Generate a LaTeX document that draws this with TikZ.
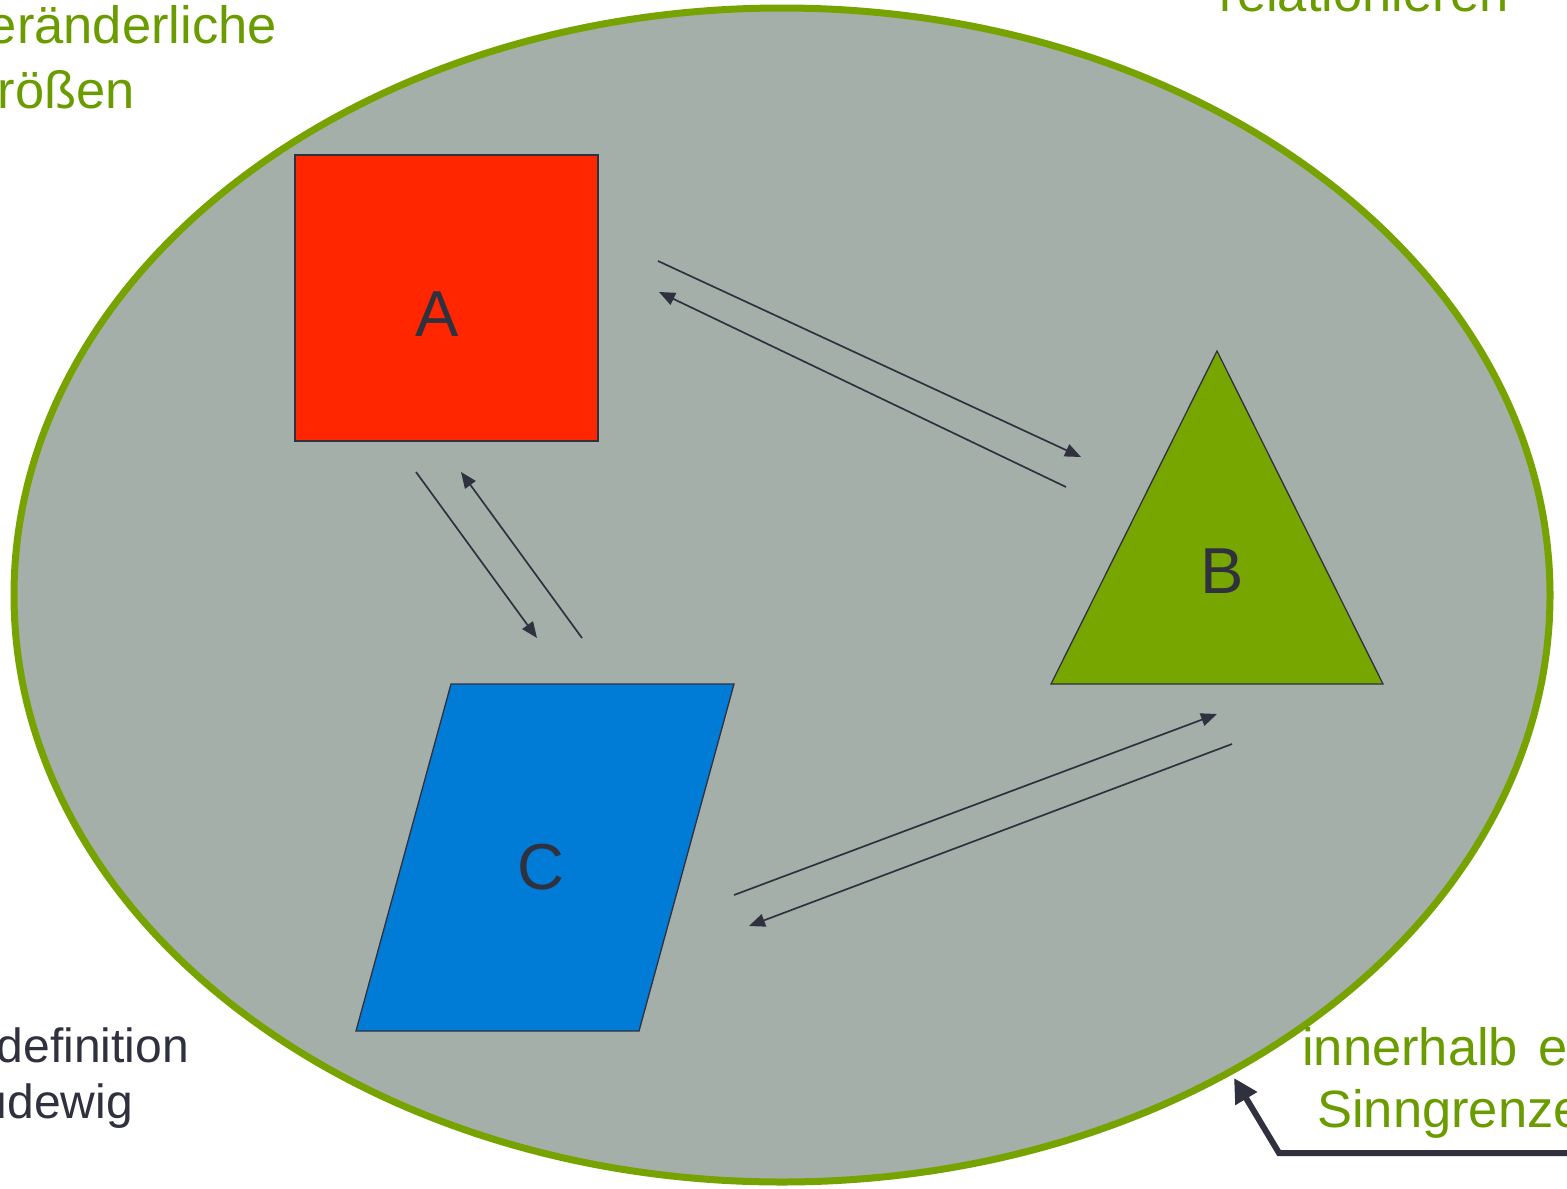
\documentclass[tikz,border=0pt]{standalone}
\usepackage{fontspec}
\setmainfont{Liberation Sans}
\usetikzlibrary{arrows.meta}
\definecolor{bgfill}{HTML}{A5AFA9}
\definecolor{ringgreen}{HTML}{77A300}
\definecolor{txtgreen}{HTML}{6A9C00}
\definecolor{sqred}{HTML}{FF2600}
\definecolor{trigreen}{HTML}{77A600}
\definecolor{parablue}{HTML}{007BD6}
\definecolor{inkdark}{HTML}{30313E}
\tikzset{
  shapeborder/.style={draw=inkdark, line width=1.3},
  thinarrow/.style={draw=inkdark, line width=1.7, -{Triangle[length=16,width=13]}},
  bigarrow/.style={draw=inkdark, line width=6, -{Triangle[length=24,width=24]}},
  lettertext/.style={text=inkdark, font=\fontsize{65}{70}\selectfont, inner sep=0},
  greentext/.style={text=txtgreen, font=\fontsize{52.5}{56}\selectfont, inner sep=0},
  darktext/.style={text=inkdark, font=\fontsize{48}{56}\selectfont, inner sep=0}
}
\begin{document}
\begin{tikzpicture}[x=1pt,y=-1pt]
\useasboundingbox (0,0) rectangle (1567,1189);
\clip (0,0) rectangle (1567,1189);
\fill[white] (0,0) rectangle (1567,1189);
% big ellipse
\filldraw[fill=bgfill, draw=ringgreen, line width=7] (782,595) ellipse [x radius=768, y radius=587];
% shapes
\filldraw[fill=sqred, shapeborder] (295,155) rectangle (598,441);
\filldraw[fill=trigreen, shapeborder] (1217,351) -- (1383,684) -- (1051,684) -- cycle;
\filldraw[fill=parablue, shapeborder] (451,684) -- (734,684) -- (639,1031) -- (356,1031) -- cycle;
% labels
\node[lettertext, anchor=base] (la) at (437,336) {A};
\node[lettertext, anchor=base] (lb) at (1222,593) {B};
\node[lettertext, anchor=base] (lc) at (541,889) {C};
% connector end points
\coordinate (ab1) at (658,261);
\coordinate (ab2) at (1081,457);
\coordinate (ba1) at (1066,487);
\coordinate (ba2) at (659,292);
\coordinate (ac1) at (416,472);
\coordinate (ac2) at (537,638);
\coordinate (ca1) at (582,638);
\coordinate (ca2) at (461,472);
\coordinate (cb1) at (734,895);
\coordinate (cb2) at (1217,714);
\coordinate (bc1) at (1232,744);
\coordinate (bc2) at (749,926);
\draw[thinarrow] (ab1) -- (ab2);
\draw[thinarrow] (ba1) -- (ba2);
\draw[thinarrow] (ac1) -- (ac2);
\draw[thinarrow] (ca1) -- (ca2);
\draw[thinarrow] (cb1) -- (cb2);
\draw[thinarrow] (bc1) -- (bc2);
% big pointer arrow
\coordinate (p0) at (1575,1153);
\coordinate (p1) at (1279,1153);
\coordinate (p2) at (1234,1078);
\draw[bigarrow] (p0) -- (p1) -- (p2);
% texts (partly outside the picture)
\node[greentext, anchor=base east] (t1) at (277,43) {Veränderliche};
\node[greentext, anchor=base east] (t2) at (135,108) {Größen};
\node[greentext, anchor=base] (t3) at (1364,11) {relationieren};
\node[darktext, anchor=base east] (t4) at (189,1062) {definition};
\node[darktext, anchor=base east] (t5) at (133,1118) {Ludewig};
\node[greentext, anchor=base west] (t6) at (1302,1065) {innerhalb\hspace{20pt}einer};
\node[greentext, anchor=base west] (t7) at (1317,1127) {Sinngrenze};
\end{tikzpicture}
\end{document}
